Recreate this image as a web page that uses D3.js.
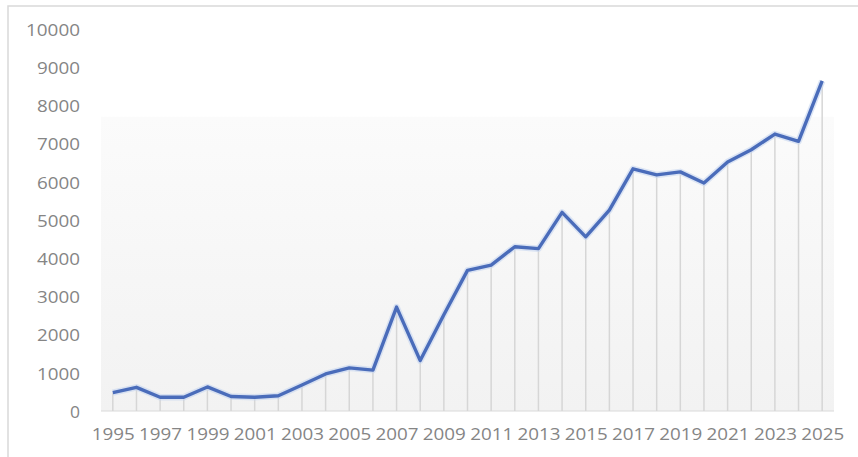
<!DOCTYPE html>
<html><head><meta charset="utf-8">
<script src="https://cdn.jsdelivr.net/npm/d3@7"></script>
<style>html,body{margin:0;padding:0;background:#fff;}svg{display:block;}</style>
</head><body>
<svg id="chart" width="858" height="457"></svg>
<script>
const years = [1995,1996,1997,1998,1999,2000,2001,2002,2003,2004,2005,2006,2007,2008,2009,2010,2011,2012,2013,2014,2015,2016,2017,2018,2019,2020,2021,2022,2023,2024,2025];
const values = [480,620,360,360,630,380,360,400,680,970,1130,1070,2720,1320,2520,3680,3820,4300,4250,5200,4560,5260,6340,6180,6260,5970,6520,6840,7250,7060,8640];
const yTicks = [0,1000,2000,3000,4000,5000,6000,7000,8000,9000,10000];
const xTickLabels = [1995,1997,1999,2001,2003,2005,2007,2009,2011,2013,2015,2017,2019,2021,2023,2025];

const svg = d3.select("#chart");
const x = d3.scalePoint().domain(years).range([101, 834]).padding(0.5);
const y = d3.scaleLinear().domain([0, 10000]).range([411, 29]);
const fmt = d3.format("d");

// outer frame
svg.append("rect").attr("x", 8).attr("y", 6).attr("width", 900).attr("height", 500)
  .attr("fill", "none").attr("stroke", "#d9d9d9").attr("stroke-width", 1.5);

// background gradient panel
const defs = svg.append("defs");
const g1 = defs.append("linearGradient").attr("id", "bg").attr("x1", 0).attr("y1", 0).attr("x2", 0).attr("y2", 1);
g1.append("stop").attr("offset", "0%").attr("stop-color", "#fbfbfb");
g1.append("stop").attr("offset", "100%").attr("stop-color", "#f2f2f2");
svg.append("rect").attr("x", 101).attr("y", y(7700)).attr("width", 733).attr("height", y(0) - y(7700))
  .attr("fill", "url(#bg)");

// baseline
svg.append("line").attr("x1", 101).attr("x2", 834).attr("y1", y(0)).attr("y2", y(0))
  .attr("stroke", "#d9d9d9").attr("stroke-width", 1.2);

// drop lines
svg.append("g").selectAll("line").data(years).join("line")
  .attr("x1", d => x(d)).attr("x2", d => x(d))
  .attr("y1", (d, i) => y(values[i])).attr("y2", y(0))
  .attr("stroke", "#d6d6d6").attr("stroke-width", 1.5);

// y axis labels
const yAxis = d3.axisLeft(y).tickValues(yTicks).tickFormat(fmt).tickSize(0).tickPadding(0);
const ga = svg.append("g").attr("transform", "translate(80,1)").call(yAxis);
ga.select(".domain").remove();
ga.selectAll("text").attr("font-family", "Open Sans").attr("font-size", 16.5).attr("fill", "#858585")
  .attr("textLength", d => fmt(d).length * 11 - 1).attr("lengthAdjust", "spacingAndGlyphs");

// x axis labels
const xAxis = d3.axisBottom(x).tickValues(xTickLabels).tickFormat(fmt).tickSize(0).tickPadding(0);
const gx = svg.append("g").attr("transform", "translate(0,428)").call(xAxis);
gx.select(".domain").remove();
gx.selectAll("text").attr("font-family", "Open Sans").attr("font-size", 17).attr("fill", "#858585")
  .attr("textLength", 43).attr("lengthAdjust", "spacingAndGlyphs");

// line glow + line
const line = d3.line().x((d, i) => x(years[i])).y(d => y(d));
svg.append("path").datum(values).attr("d", line).attr("fill", "none")
  .attr("stroke", "#c7d5f0").attr("stroke-width", 6.5).attr("stroke-linejoin", "round").attr("opacity", 0.6);
svg.append("path").datum(values).attr("d", line).attr("fill", "none")
  .attr("stroke", "#4a6cba").attr("stroke-width", 3.4).attr("stroke-linejoin", "round");
</script>
</body></html>
